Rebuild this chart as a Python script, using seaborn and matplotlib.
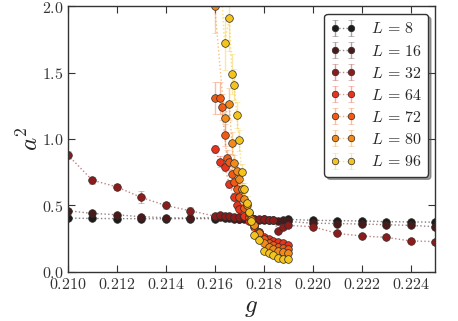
import matplotlib
matplotlib.use("Agg")
import matplotlib.pyplot as plt
import seaborn as sns
from matplotlib.colors import to_rgba
from matplotlib.ticker import FuncFormatter, MultipleLocator

# --- data ---
g_8 = [0.210, 0.211, 0.212, 0.213, 0.214, 0.215, 0.216, 0.217, 0.218, 0.219,
       0.220, 0.221, 0.222, 0.223, 0.224, 0.225]
a_8 = [0.405, 0.402, 0.401, 0.400, 0.400, 0.401, 0.400, 0.398, 0.397, 0.395,
       0.388, 0.386, 0.383, 0.378, 0.376, 0.374]
e_8 = [0.008, 0.006, 0.006, 0.006, 0.006, 0.006, 0.006, 0.006, 0.006, 0.006,
       0.006, 0.006, 0.006, 0.006, 0.006, 0.006]

g_16 = [0.210, 0.211, 0.212, 0.213, 0.214, 0.215, 0.2160, 0.2162, 0.2164, 0.2166,
        0.2168, 0.2170, 0.2172, 0.2174, 0.2176, 0.2178, 0.2180, 0.2182, 0.2184,
        0.2186, 0.2188, 0.2190, 0.220, 0.221, 0.222, 0.223, 0.224, 0.225]
a_16 = [0.46, 0.44, 0.43, 0.415, 0.408, 0.405, 0.41, 0.41, 0.405, 0.405,
        0.40, 0.40, 0.40, 0.395, 0.395, 0.39, 0.39, 0.39, 0.39,
        0.385, 0.39, 0.38, 0.366, 0.364, 0.36, 0.355, 0.35, 0.34]
e_16 = [0.012, 0.01, 0.01, 0.01, 0.008, 0.008, 0.008, 0.008, 0.008, 0.008,
        0.008, 0.008, 0.008, 0.008, 0.008, 0.008, 0.008, 0.008, 0.008,
        0.008, 0.008, 0.008, 0.008, 0.008, 0.008, 0.008, 0.008, 0.008]

g_32 = g_16
a_32 = [0.88, 0.69, 0.64, 0.56, 0.50, 0.46, 0.42, 0.425, 0.42, 0.42,
        0.415, 0.415, 0.41, 0.41, 0.40, 0.40, 0.395, 0.39, 0.39,
        0.31, 0.335, 0.35, 0.34, 0.29, 0.27, 0.26, 0.233, 0.228]
e_32 = [0.03, 0.025, 0.025, 0.045, 0.025, 0.025, 0.012, 0.012, 0.012, 0.012,
        0.012, 0.012, 0.012, 0.012, 0.012, 0.012, 0.012, 0.012, 0.012,
        0.012, 0.012, 0.012, 0.012, 0.012, 0.012, 0.012, 0.012, 0.012]

g_64 = [0.2160, 0.2162, 0.2164, 0.2166, 0.2168, 0.2169, 0.2170, 0.2172, 0.2174,
        0.2176, 0.2178, 0.2180, 0.2182, 0.2184, 0.2186, 0.2188, 0.2190]
a_64 = [0.925, 0.83, 0.79, 0.66, 0.56, 0.50, 0.47, 0.42, 0.38,
        0.34, 0.30, 0.265, 0.25, 0.235, 0.228, 0.215, 0.20]
e_64 = [0.03, 0.04, 0.03, 0.03, 0.03, 0.03, 0.025, 0.025, 0.02,
        0.02, 0.02, 0.015, 0.015, 0.015, 0.015, 0.015, 0.015]

g_72 = [0.2160, 0.2162, 0.2163, 0.2164, 0.2165, 0.2166, 0.2167, 0.2168, 0.2169,
        0.2170, 0.2172, 0.2174, 0.2176, 0.2178, 0.2180, 0.2182, 0.2184, 0.2186,
        0.2188, 0.2190]
a_72 = [1.31, 1.31, 1.24, 1.03, 0.86, 0.83, 0.74, 0.68, 0.62,
        0.56, 0.48, 0.41, 0.35, 0.30, 0.25, 0.22, 0.20, 0.19,
        0.18, 0.175]
e_72 = [0.12, 0.12, 0.1, 0.08, 0.06, 0.06, 0.05, 0.05, 0.04,
        0.04, 0.03, 0.03, 0.025, 0.02, 0.02, 0.015, 0.015, 0.015,
        0.015, 0.015]

g_80 = [0.2160, 0.2164, 0.2166, 0.2167, 0.2168, 0.2169, 0.2170, 0.2171, 0.2172,
        0.2173, 0.2174, 0.2175, 0.2176, 0.2178, 0.2180, 0.2182, 0.2184, 0.2186,
        0.2188, 0.2190]
a_80 = [2.0, 1.16, 1.26, 0.97, 0.82, 0.76, 0.70, 0.62, 0.55,
        0.50, 0.44, 0.40, 0.35, 0.29, 0.22, 0.19, 0.17, 0.16,
        0.15, 0.145]
e_80 = [0.2, 0.12, 0.12, 0.08, 0.06, 0.06, 0.05, 0.05, 0.04,
        0.04, 0.03, 0.03, 0.025, 0.02, 0.02, 0.015, 0.015, 0.015,
        0.015, 0.015]

g_96 = [0.2162, 0.2164, 0.2166, 0.2167, 0.2168, 0.2169, 0.2170, 0.2171, 0.2172,
        0.2173, 0.2174, 0.2175, 0.2176, 0.2178, 0.2180, 0.2182, 0.2184, 0.2186,
        0.2188, 0.2190]
a_96 = [2.35, 1.72, 1.91, 1.49, 1.41, 1.18, 0.99, 0.75, 0.62,
        0.52, 0.45, 0.38, 0.28, 0.24, 0.16, 0.14, 0.125, 0.105,
        0.10, 0.10]
e_96 = [0.3, 0.2, 0.25, 0.15, 0.12, 0.1, 0.08, 0.06, 0.05,
        0.05, 0.04, 0.03, 0.025, 0.02, 0.015, 0.015, 0.015, 0.015,
        0.015, 0.015]

sizes = [8, 16, 32, 64, 72, 80, 96]
colors = ["#1e1a1a", "#4a1a1a", "#8c1c1c", "#e8341c", "#f05a14", "#f28a18", "#f4c41c"]
series = [(g_8, a_8, e_8), (g_16, a_16, e_16), (g_32, a_32, e_32),
          (g_64, a_64, e_64), (g_72, a_72, e_72), (g_80, a_80, e_80),
          (g_96, a_96, e_96)]

sns.set_style("ticks")
plt.rcParams["mathtext.fontset"] = "cm"
plt.rcParams["font.family"] = ["DejaVu Serif"]
plt.rcParams["xtick.direction"] = "in"
plt.rcParams["ytick.direction"] = "in"

fig = plt.figure(figsize=(4.58, 3.21), dpi=100)
ax = fig.add_axes([0.148, 0.153, 0.802, 0.828])

for L, c, (g, a, e) in zip(sizes, colors, series):
    line_c = to_rgba(c, 0.55)
    err_c = to_rgba(c, 0.4)
    ax.errorbar(g, a, yerr=e, fmt="o", ls=":", lw=1, color=line_c,
                mfc=c, mec="#2a2a2a", mew=0.5, ms=5.5,
                ecolor=err_c, elinewidth=1, capsize=2.5, capthick=1,
                label=rf"$L\,=\,{L}$")

ax.set_xlim(0.210, 0.225)
ax.set_ylim(0.0, 2.0)
ax.xaxis.set_major_locator(MultipleLocator(0.002))
ax.yaxis.set_major_locator(MultipleLocator(0.5))
ax.xaxis.set_major_formatter(FuncFormatter(lambda v, p: rf"${v:.3f}$"))
ax.yaxis.set_major_formatter(FuncFormatter(lambda v, p: rf"${v:.1f}$"))
ax.tick_params(axis="both", which="major", labelsize=11.5, length=5, width=0.8,
               top=True, right=True, colors="#333333", labelcolor="#333333", pad=3)
for s in ax.spines.values():
    s.set_color("#333333")
    s.set_linewidth(1)

ax.set_xlabel(r"$g$", fontsize=18, labelpad=2)
ax.set_ylabel(r"$a^2$", fontsize=18, labelpad=-0.5)

leg = ax.legend(loc="upper right", numpoints=2, fontsize=11.5, frameon=True,
                fancybox=True, shadow=True, framealpha=1, borderpad=0.4,
                labelspacing=0.32, handlelength=1.6, handletextpad=0.9,
                markerscale=0.85, borderaxespad=0,
                bbox_to_anchor=(0.981, 0.97))
leg.get_frame().set_edgecolor("#333333")
leg.get_frame().set_linewidth(1)

fig.savefig("out.png", dpi=100)
